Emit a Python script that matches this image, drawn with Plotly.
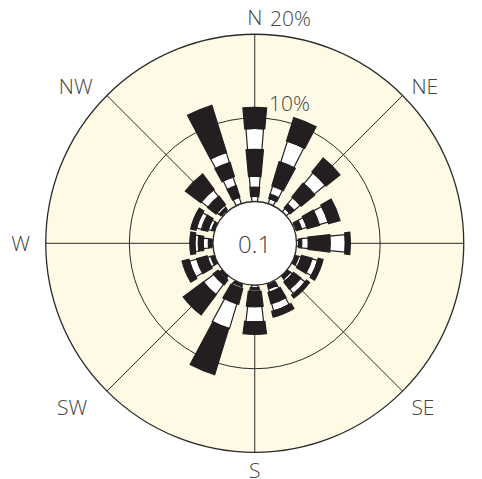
import math
import plotly.graph_objects as go

# ---------------- data ----------------
directions = ["N", "NNE", "NE", "ENE", "E", "ESE", "SE", "SSE",
              "S", "SSW", "SW", "WSW", "W", "WNW", "NW", "NNW"]
angles = [i * 22.5 for i in range(16)]

speed_classes = ["Interval 1", "Interval 2", "Interval 3",
                 "Interval 4", "Interval 5", "Interval 6"]

class1 = [0.61, 0.63, 0.51, 0.22, 0.25, 0.10, 0.10, 0.20, 0.30, 0.15, 0.10, 0.10, 0.15, 0.10, 0.20, 0.80]
class2 = [1.11, 0.53, 0.63, 0.65, 0.38, 0.40, 0.40, 0.50, 0.30, 0.25, 0.20, 0.40, 0.41, 0.30, 0.30, 1.45]
class3 = [1.30, 1.00, 0.96, 0.65, 0.79, 0.30, 0.30, 0.40, 0.20, 0.23, 0.15, 0.40, 0.60, 0.40, 0.30, 1.09]
class4 = [3.21, 3.05, 2.13, 1.52, 2.62, 1.30, 1.10, 1.40, 1.80, 1.93, 0.73, 1.30, 0.61, 0.80, 1.28, 1.78]
class5 = [2.50, 2.61, 1.70, 1.09, 1.80, 0.70, 0.70, 0.90, 1.80, 3.08, 1.52, 0.90, 0.40, 0.60, 1.00, 1.27]
class6 = [2.53, 2.94, 2.14, 1.43, 0.61, 0.60, 0.45, 0.70, 1.50, 5.80, 3.00, 0.85, 0.60, 0.65, 2.30, 5.90]
classes = [class1, class2, class3, class4, class5, class6]

calm_value = 0.1

compass_angles = [0, 45, 90, 135, 180, 225, 270, 315]
compass_labels = ["N", "NE", "E", "SE", "S", "SW", "W", "NW"]

radial_ticks = [10, 20]
radial_tick_labels = ["10%", "20%"]
radial_label_theta = [14, 9]      # label bearing (deg), just right of north

# ---------------- style ----------------
W, H = 482, 479
PAGE_OFFSET = 8                   # default body margin of the html page
RMAX = 20
HOLE = 0.2
BLACK = "#231f20"
WHITE = "#ffffff"
CREAM = "#fefae6"
GRID = "#2b2b2b"
LABEL = "#454545"
FONT = "Open Sans"
class_colors = [WHITE, BLACK, WHITE, BLACK, WHITE, BLACK]
paddle_px = [6, 9, 10, 15, 16, 22]          # paddle widths in pixels
LABEL_PAD_UNITS = 2.3                       # radial label distance beyond circle
NBSP = "\u00a0"
# extra spacing between compass labels and the circle (in spaces)
label_pad = {"N": (0, 0), "NE": (1, 0), "E": (1, 0), "SE": (1, 0),
             "S": (0, 0), "SW": (0, 3), "W": (0, 2), "NW": (0, 2)}
compass_text = [NBSP * label_pad[l][0] + l + NBSP * label_pad[l][1]
                for l in compass_labels]

# polar domain (pixels, in figure coordinates)
cx, cy, R = 254.75 - PAGE_OFFSET, 243.3 - PAGE_OFFSET, 209.0
dom_x = [(cx - R) / W, (cx + R) / W]
dom_y = [1 - (cy + R) / H, 1 - (cy - R) / H]

hole_units = HOLE / (1 - HOLE) * RMAX
px_per_unit = R / (RMAX + hole_units)

fig = go.Figure()

cum = [0.0] * len(angles)
for k, vals in enumerate(classes):
    widths = []
    for i, v in enumerate(vals):
        mid = hole_units + cum[i] + v / 2.0
        half = paddle_px[k] / 2.0 / px_per_unit
        widths.append(2 * math.degrees(math.atan(half / mid)))
        cum[i] += v
    fig.add_trace(go.Barpolar(
        r=vals, theta=angles, width=widths,
        name=speed_classes[k],
        marker=dict(color=class_colors[k], line=dict(color=BLACK, width=1.2)),
        showlegend=False, hoverinfo="skip",
    ))

# radial tick labels as annotations, placed from the polar geometry
annotations = []
for t, lab, th in zip(radial_ticks, radial_tick_labels, radial_label_theta):
    rpx = (hole_units + t + LABEL_PAD_UNITS) * px_per_unit
    px = cx + rpx * math.sin(math.radians(th))
    py = cy - rpx * math.cos(math.radians(th))
    annotations.append(dict(
        x=px / W, y=1 - py / H, xref="paper", yref="paper",
        text=lab, showarrow=False, xanchor="center", yanchor="middle",
        font=dict(family=FONT, size=21, color=LABEL, weight=300),
    ))
annotations.append(dict(
    x=(dom_x[0] + dom_x[1]) / 2, y=(dom_y[0] + dom_y[1]) / 2,
    xref="paper", yref="paper", text=str(calm_value), showarrow=False,
    font=dict(family=FONT, size=24, color=LABEL, weight=300),
    xanchor="center", yanchor="middle",
))

fig.update_layout(
    width=W, height=H,
    margin=dict(l=0, r=0, t=0, b=0),
    paper_bgcolor="white",
    showlegend=False,
    polar=dict(
        domain=dict(x=dom_x, y=dom_y),
        bgcolor=CREAM,
        hole=HOLE,
        barmode="stack",
        angularaxis=dict(
            rotation=90, direction="clockwise",
            tickmode="array", tickvals=compass_angles, ticktext=compass_text,
            ticks="", showline=True, linecolor=GRID, linewidth=1.3,
            showgrid=True, gridcolor=GRID, gridwidth=1,
            tickfont=dict(family=FONT, size=21, color=LABEL, weight=300),
        ),
        radialaxis=dict(
            range=[0, RMAX], tickmode="array", tickvals=[0] + radial_ticks,
            showticklabels=False, ticks="", showline=False,
            showgrid=True, gridcolor=GRID, gridwidth=1,
        ),
    ),
    annotations=annotations,
)

fig.write_html("out.html")
